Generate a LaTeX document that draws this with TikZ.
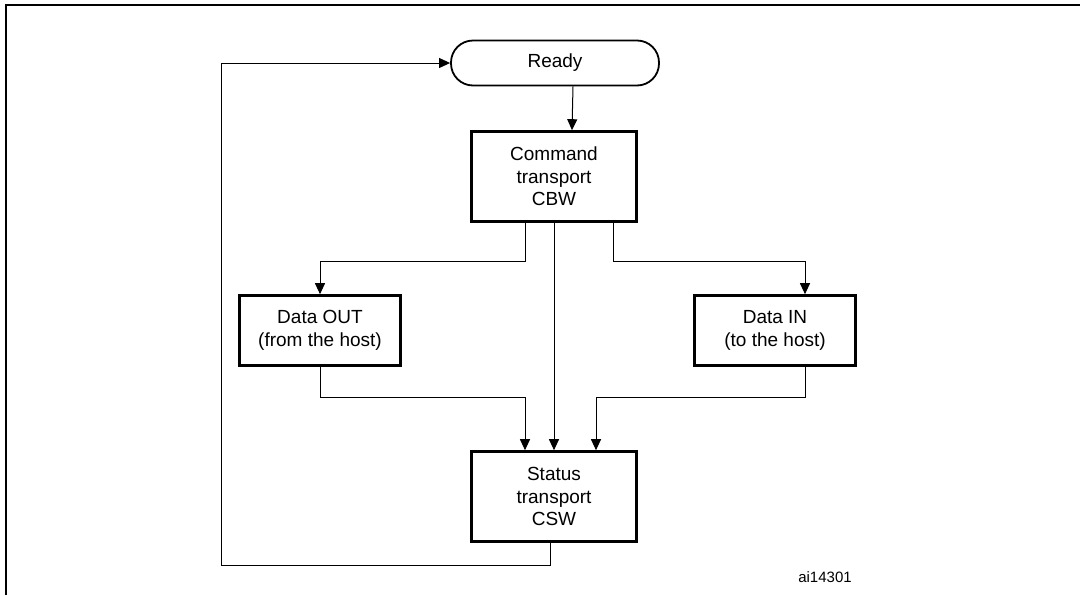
\documentclass[tikz,border=0pt]{standalone}
\usepackage{fontspec}
\setmainfont{Liberation Sans}
\usetikzlibrary{arrows.meta}

\begin{document}
\begin{tikzpicture}[x=1pt, y=-1pt,
            stage/.style={rectangle, draw, line width=2.6pt, minimum width=165pt, minimum height=90pt, align=center, font=\fontsize{19}{22.5}\selectfont},
            datastage/.style={stage, minimum width=161pt, minimum height=70pt},
            terminal/.style={rectangle, rounded corners=22pt, draw, line width=1.8pt, minimum width=208pt, minimum height=45pt, font=\fontsize{19}{22.5}\selectfont},
            flow/.style={line width=1pt, -{Triangle[length=11pt,width=10pt]}}
        ]
            \useasboundingbox (0,0) rectangle (1080,595);

% Frame
            \draw[line width=2pt] (6,595) -- (6,5) -- (1080,5);

% States
            \node[terminal] (ready) at (555,63) {Ready};
            \node[stage] (cmd) at (554,176.5) {Command\\transport\\CBW};
            \node[datastage] (dataout) at (320,330.5) {Data OUT\\(from the host)};
            \node[datastage] (datain) at (775,330.5) {Data IN\\(to the host)};
            \node[stage] (status) at (554,496.5) {Status\\transport\\CSW};

% Figure code
            \node[font=\fontsize{15}{18}\selectfont] (code) at (825,577) {ai14301};

% Arrows
            \draw[flow] ([xshift=18pt]ready.south) -- ([xshift=18pt]cmd.north);
            \draw[flow] ([xshift=-29pt]cmd.south) -- ++(0,39) -| (dataout.north);
            \draw[flow] ([xshift=59pt]cmd.south) -- ++(0,39) -| ([xshift=30pt]datain.north);
            \draw[flow] (cmd.south) -- (status.north);
            \draw[flow] (dataout.south) -- ++(0,31) -| ([xshift=-29pt]status.north);
            \draw[flow] ([xshift=30pt]datain.south) -- ++(0,31) -| ([xshift=42pt]status.north);
            \draw[flow] ([xshift=-4pt]status.south) -- ++(0,23) -| ([xshift=-229pt]ready.west) -- (ready.west);

        \end{tikzpicture}
\end{document}
